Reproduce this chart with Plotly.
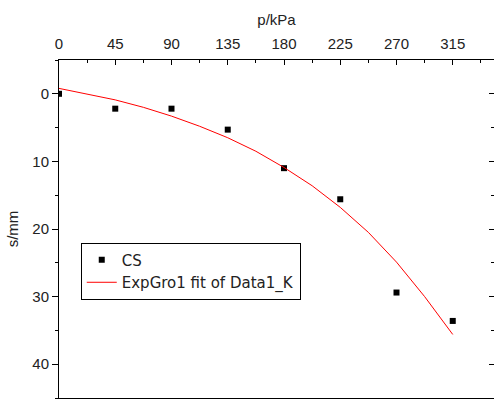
import plotly.graph_objects as go

# Measured data (CS)
p_kpa = [0, 45, 90, 135, 180, 225, 270, 315]
s_mm = [0.0, 2.2, 2.2, 5.3, 11.0, 15.6, 29.4, 33.6]

# ExpGro1 fit curve
fit_p = [0, 22.5, 45, 67.5, 90, 112.5, 135, 157.5, 180, 202.5, 225, 247.5, 270, 292.5, 315]
fit_s = [-0.8, 0.0, 0.9, 2.0, 3.3, 4.8, 6.5, 8.5, 10.9, 13.6, 16.8, 20.5, 24.9, 30.0, 35.6]

x_ticks = [0, 45, 90, 135, 180, 225, 270, 315]
y_ticks = [0, 10, 20, 30, 40]

FONT = "Liberation Sans, Arial, sans-serif"
LEG_FONT = "DejaVu Sans, sans-serif"
TXT = "#222222"

fig = go.Figure()
fig.add_trace(go.Scatter(
    x=p_kpa, y=s_mm, mode="markers", name="CS",
    marker=dict(symbol="square", size=6, color="black"),
))
fig.add_trace(go.Scatter(
    x=fit_p, y=fit_s, mode="lines", name="ExpGro1 fit of Data1_K",
    line=dict(color="red", width=1),
))
fig.add_trace(go.Scatter(x=[None], y=[None], yaxis="y2", showlegend=False, hoverinfo="skip"))

fig.update_layout(
    width=494, height=399,
    margin=dict(l=59, r=0, t=60, b=1),
    paper_bgcolor="white", plot_bgcolor="white",
    font=dict(family=FONT, size=15, color=TXT),
    showlegend=True,
    legend=dict(
        x=0.05, y=0.46, xanchor="left", yanchor="top",
        bordercolor="black", borderwidth=1, bgcolor="white",
        font=dict(family=LEG_FONT, size=15, color=TXT),
        tracegroupgap=0,
    ),
    xaxis=dict(
        side="top", range=[0, 348], tickvals=x_ticks,
        ticks="inside", ticklen=5, tickwidth=1, tickcolor="black",
        minor=dict(dtick=22.5, tick0=0, ticks="inside", ticklen=3, tickcolor="black"),
        showline=True, linecolor="black", linewidth=1, mirror=True,
        showgrid=False, zeroline=False,
        title=dict(text="p/kPa", font=dict(size=15, color=TXT), standoff=5),
        ticklabelstandoff=4,
    ),
    yaxis=dict(
        range=[45, -5], tickvals=y_ticks,
        ticks="outside", ticklen=6, tickwidth=1, tickcolor="black",
        minor=dict(dtick=5, tick0=0, ticks="outside", ticklen=3, tickcolor="black"),
        showline=True, linecolor="black", linewidth=1,
        showgrid=False, zeroline=False,
        title=dict(text="s/mm", font=dict(size=15, color=TXT), standoff=10),
    ),
    yaxis2=dict(
        overlaying="y", side="right", matches="y", range=[45, -5],
        tickvals=y_ticks, showticklabels=False,
        ticks="inside", ticklen=5, tickcolor="black",
        minor=dict(dtick=5, tick0=0, ticks="inside", ticklen=3, tickcolor="black"),
        showline=True, linecolor="black", linewidth=1,
        showgrid=False, zeroline=False,
    ),
)

fig.write_html("out.html")
